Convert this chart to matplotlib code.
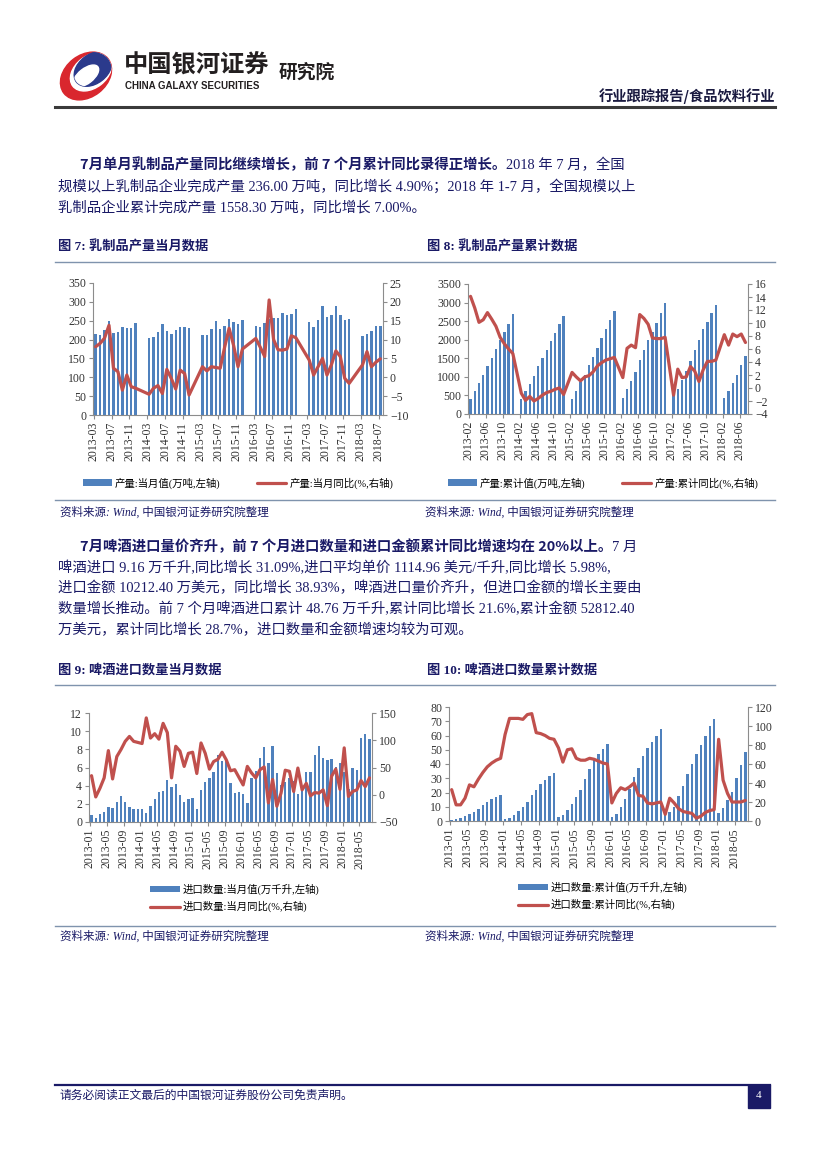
import numpy as np
import pandas as pd
import matplotlib
matplotlib.use('Agg')
import matplotlib.pyplot as plt
from matplotlib.patches import Ellipse, Rectangle
from matplotlib.font_manager import FontProperties

W, H = 827, 1169
CJK = 'Noto Sans CJK SC'
SERIF = ['Liberation Serif', CJK]
NAVY = '#1a1a66'
BLUE = '#4f81bd'
RED = '#c0504d'
AXC = '#8c8c8c'

plt.rcParams['font.family'] = SERIF
nan = np.nan

# --- fig 7: dairy output, monthly (2013-03 .. 2018-07) ---
dairy_months = pd.period_range('2013-03', '2018-07', freq='M')
dairy_month_val = [215, 213, 225, 248, 217, 219, 234, 230, 232, 245,
                   nan, nan, 205, 208, 221, 242, 222, 216, 226, 233, 233, 232,
                   nan, nan, 213, 213, 228, 248, 227, 236, 254, 246, 242, 251,
                   nan, nan, 237, 233, 243, 255, 256, 256, 271, 266, 269, 280,
                   nan, nan, 247, 234, 253, 290, 259, 266, 288, 266, 252, 254,
                   nan, nan, 209, 216, 224, 236, 236]
dairy_month_yoy = [8.1, 9.0, 10.4, 13.8, 2.4, 1.5, -3.4, 0.6, -2.5, -2.9,
                   nan, nan, -4.5, -2.9, -2.2, -4.3, 2.1, -0.3, -3.1, 1.9, 1.0, -4.7,
                   nan, nan, 2.8, 1.7, 2.8, 2.6, 2.4, 8.0, 13.0, 8.5, 2.8, 7.5,
                   nan, nan, 10.3, 8.0, 5.5, 20.5, 10.0, 7.3, 7.2, 7.5, 11.0, 10.5,
                   nan, nan, 4.6, 0.6, 2.8, 5.0, 0.6, 3.3, 7.0, 5.5, -0.3, -1.6,
                   nan, nan, 3.3, 6.8, 2.8, 4.0, 4.9]

# --- fig 8: dairy output, cumulative (2013-02 .. 2018-07) ---
dairy_cum_months = pd.period_range('2013-02', '2018-07', freq='M')
dairy_cum_val = [400, 630, 830, 1050, 1300, 1520, 1740, 1980, 2200, 2430, 2690,
                 nan, 400, 610, 820, 1030, 1280, 1500, 1720, 1960, 2190, 2430, 2650,
                 nan, 410, 630, 850, 1060, 1310, 1540, 1790, 2040, 2280, 2530, 2780,
                 nan, 430, 660, 890, 1130, 1460, 1710, 1980, 2200, 2460, 2730, 2990,
                 nan, 500, 680, 920, 1150, 1440, 1710, 1980, 2280, 2490, 2720, 2930,
                 nan, 430, 630, 840, 1060, 1320, 1558]
dairy_cum_yoy = [14.1, 12.3, 10.1, 10.5, 11.6, 10.6, 9.5, 7.8, 6.8, 6.0, 5.3,
                 nan, -0.8, -1.9, -1.3, -2.0, -1.6, -1.1, -0.7, -0.5, -0.2, 0.0, -1.0,
                 nan, 2.4, 1.7, 1.1, 1.7, 1.9, 2.5, 3.4, 3.9, 4.3, 4.5, 4.7,
                 nan, 1.6, 6.1, 6.6, 6.2, 11.3, 10.7, 9.8, 7.7, 7.6, 7.6, 7.8,
                 nan, -1.1, 2.9, 1.6, 1.7, 3.3, 2.6, 1.0, 2.8, 4.1, 4.1, 4.3,
                 nan, 8.2, 6.6, 8.3, 7.9, 8.3, 7.0]

# --- fig 9 / 10: beer imports (2013-01 .. 2018-07) ---
beer_months = pd.period_range('2013-01', '2018-07', freq='M')
beer_month_val = [0.75, 0.4, 0.85, 1.15, 1.65, 1.5, 2.15, 2.85, 2.2, 1.65, 1.4, 1.45,
                  1.45, 1.0, 1.8, 2.5, 3.35, 3.45, 4.6, 3.85, 4.15, 2.95, 2.15, 2.55,
                  2.6, 1.4, 3.5, 4.35, 4.8, 5.5, 7.4, 6.7, 6.8, 4.25, 3.15, 3.35,
                  3.05, 2.1, 4.85, 5.6, 7.1, 8.3, 6.45, 8.4, 5.35, 4.1, 4.4, 4.8,
                  4.5, 3.05, 3.8, 5.45, 5.5, 7.35, 8.4, 7.0, 6.85, 6.9, 6.05, 6.55,
                  5.5, 3.6, 5.9, 5.7, 9.25, 9.65, 9.16]
beer_month_yoy = [35, -4, 12, 31, 81, 29, 70, 83, 98, 107, 98, 96,
                  94, 141, 104, 112, 102, 131, 114, 31, 89, 80, 52, 76,
                  78, 39, 95, 76, 47, 61, 65, 78, 64, 44, 46, 32,
                  18, 52, 40, 31, 46, 51, -15, 28, -21, 3, 45, 43,
                  6, 49, 9, 21, -2, 4, 3, 9, -20, 34, 47, 10,
                  86, -3, 6, 9, 26, 15, 31]
beer_cum_val = [0.75, 1.15, 2.0, 3.2, 4.8, 6.3, 8.4, 11.3, 13.5, 15.2, 16.6, 18.0,
                1.45, 2.45, 4.25, 6.75, 10.1, 13.6, 18.2, 22.0, 26.2, 29.1, 31.3, 33.9,
                2.6, 4.0, 7.5, 11.8, 16.6, 22.1, 29.5, 36.2, 43.0, 47.3, 50.4, 53.8,
                3.05, 5.15, 10.0, 15.6, 22.7, 31.0, 37.5, 45.9, 51.2, 55.3, 59.7, 64.5,
                4.5, 6.2, 10.0, 17.3, 24.6, 33.1, 39.8, 46.8, 53.6, 59.6, 66.5, 71.6,
                5.5, 9.0, 14.8, 20.6, 29.9, 39.6, 48.76]
beer_cum_yoy = [33, 17, 17, 24, 38, 36, 44, 51, 57, 61, 64, 66,
                91, 108, 108, 108, 107, 112, 113, 93, 92, 90, 87, 86,
                77, 62, 75, 76, 66, 64, 64, 66, 65, 63, 61, 60,
                19, 29, 35, 33, 36, 40, 27, 26, 19, 18, 19, 20,
                7, 24, 19, 13, 10, 9, 8, 3, 5, 9, 11, 12,
                86, 43, 29, 20, 20, 20, 21.6]

para1 = ["规模以上乳制品企业完成产量 236.00 万吨，同比增长 4.90%；2018 年 1-7 月，全国规模以上",
         "乳制品企业累计完成产量 1558.30 万吨，同比增长 7.00%。"]
para2 = ["啤酒进口 9.16 万千升,同比增长 31.09%,进口平均单价 1114.96 美元/千升,同比增长 5.98%,",
         "进口金额 10212.40 万美元，同比增长 38.93%，啤酒进口量价齐升，但进口金额的增长主要由",
         "数量增长推动。前 7 个月啤酒进口累计 48.76 万千升,累计同比增长 21.6%,累计金额 52812.40",
         "万美元，累计同比增长 28.7%，进口数量和金额增速均较为可观。"]

legend_font = FontProperties(family=SERIF, size=7.5)


def px_axes(fig, x0, y0, x1, y1):
    return fig.add_axes([x0 / W, 1 - y1 / H, (x1 - x0) / W, (y1 - y0) / H])


def dual_chart(fig, box, months, bars, line, lim_l, step_l, lim_r, step_r,
               names, leg_xy, ncol):
    ax = px_axes(fig, *box)
    ax.set_facecolor('none')
    x = np.arange(len(months))
    b = np.array(bars, dtype=float)
    l = np.array(line, dtype=float)
    hb = ax.bar(x, np.nan_to_num(b), width=0.55, color=BLUE, label=names[0], zorder=2)
    ax2 = ax.twinx()
    ok = ~np.isnan(l)
    hl, = ax2.plot(x[ok], l[ok], color=RED, lw=2.3, label=names[1],
                   solid_joinstyle='round', solid_capstyle='round')
    ax.set_xlim(-0.6, len(x) - 0.4)
    ax.set_ylim(*lim_l)
    ax2.set_ylim(*lim_r)
    ax.set_yticks(np.arange(lim_l[0], lim_l[1] + step_l / 2, step_l))
    ax2.set_yticks(np.arange(lim_r[0], lim_r[1] + step_r / 2, step_r))
    ticks = x[::4]
    ax.set_xticks(ticks - 0.4)
    ax.set_xticklabels([months[i].strftime('%Y-%m') for i in ticks],
                       rotation=90, fontsize=8.5, color='#333333')
    for a in (ax, ax2):
        a.spines['top'].set_visible(False)
        for s in a.spines.values():
            s.set_color(AXC)
            s.set_linewidth(0.8)
        a.tick_params(axis='y', length=3, color=AXC, labelsize=8.5,
                      labelcolor='#333333', pad=2)
    ax.spines['right'].set_visible(False)
    ax2.spines['left'].set_visible(False)
    ax2.spines['bottom'].set_visible(False)
    ax.tick_params(axis='x', length=3, color=AXC, pad=2)
    ax.legend(handles=[hb, hl], loc='center', ncol=ncol,
              bbox_to_anchor=(leg_xy[0] / W, 1 - leg_xy[1] / H),
              bbox_transform=fig.transFigure, frameon=False, prop=legend_font,
              handlelength=2.8, handleheight=0.6, columnspacing=3.5,
              handletextpad=0.3, labelspacing=0.6, borderpad=0)
    return ax


fig = plt.figure(figsize=(W / 100, H / 100), dpi=100)
bg = fig.add_axes([0, 0, 1, 1])
bg.set_xlim(0, W)
bg.set_ylim(H, 0)
bg.axis('off')

# header logo: red and blue crescents inside an oval
oval = Ellipse((86, 76), 56, 42, angle=-38, color='#d9272e')
bg.add_patch(oval)
cut = Ellipse((91, 72), 46, 32, angle=-38, color='white')
bg.add_patch(cut)
cut.set_clip_path(oval)
blue = Ellipse((93, 69), 42, 29, angle=-38, color='#2b3a8c')
bg.add_patch(blue)
blue.set_clip_path(oval)
hole = Ellipse((86, 76), 30, 15, angle=-38, color='white')
bg.add_patch(hole)
hole.set_clip_path(blue)

bg.text(124, 66, '中国银河证券', fontsize=17.5, fontweight='bold', family=CJK,
        color='#231f20', va='center')
bg.text(125, 86, 'CHINA GALAXY SECURITIES', fontsize=7, fontweight='bold',
        family='Liberation Sans', color='#231f20', va='center')
bg.text(279, 72, '研究院', fontsize=13.5, fontweight='bold', family=CJK,
        color='#231f20', va='center')
bg.text(775, 96, '行业跟踪报告/食品饮料行业', fontsize=10.3, fontweight='bold',
        family=CJK, color='#1a1a40', va='center', ha='right')
bg.plot([55, 775], [107, 107], color='#3a3a3a', lw=2.2)

body = dict(fontsize=10.35, color=NAVY, va='center')


def para(y0, bold, rest, lines, dy):
    t = bg.text(80, y0, bold, fontweight='bold', family=CJK, **body)
    bg.annotate(rest, xy=(1, 0.5), xycoords=t, ha='left', **body)
    for i, s in enumerate(lines):
        bg.text(58, y0 + dy * (i + 1), s, **body)


para(165, '7月单月乳制品产量同比继续增长，前 7 个月累计同比录得正增长。',
     '2018 年 7 月，全国', para1, 21.5)
para(547, '7月啤酒进口量价齐升，前 7 个月进口数量和进口金额累计同比增速均在 20%以上。',
     '7 月', para2, 20.7)

head = dict(fontsize=9.5, fontweight='bold', family=SERIF, color=NAVY, va='center')
src = dict(fontsize=8.3, style='italic', color=NAVY, va='center')
bg.text(58, 247, '图 7: 乳制品产量当月数据', **head)
bg.text(427, 247, '图 8: 乳制品产量累计数据', **head)
bg.text(58, 670, '图 9: 啤酒进口数量当月数据', **head)
bg.text(427, 670, '图 10: 啤酒进口数量累计数据', **head)
for y in (262, 500, 685, 926):
    bg.plot([55, 775], [y, y], color='#7f93ad', lw=1.0)
for y in (513, 937):
    bg.text(60, y, '资料来源: Wind, 中国银河证券研究院整理', **src)
    bg.text(425, y, '资料来源: Wind, 中国银河证券研究院整理', **src)

# footer
bg.plot([55, 770], [1085, 1085], color='#1a1a66', lw=1.6)
bg.text(60, 1096, '请务必阅读正文最后的中国银河证券股份公司免责声明。', fontsize=8.5,
        color=NAVY, va='center')
bg.add_patch(Rectangle((748, 1085), 22, 23, color='#1a1a66'))
bg.text(759, 1096, '4', fontsize=8, color='white', ha='center', va='center')

dual_chart(fig, (93, 283, 383, 415), dairy_months, dairy_month_val, dairy_month_yoy,
           (0, 350), 50, (-10, 25), 5,
           ['产量:当月值(万吨,左轴)', '产量:当月同比(%,右轴)'], (238, 483), 2)
dual_chart(fig, (468, 284, 748, 414), dairy_cum_months, dairy_cum_val, dairy_cum_yoy,
           (0, 3500), 500, (-4, 16), 2,
           ['产量:累计值(万吨,左轴)', '产量:累计同比(%,右轴)'], (603, 483), 2)
dual_chart(fig, (89, 713, 372, 822), beer_months, beer_month_val, beer_month_yoy,
           (0, 12), 2, (-50, 150), 50,
           ['进口数量:当月值(万千升,左轴)', '进口数量:当月同比(%,右轴)'], (235, 898), 1)
dual_chart(fig, (449, 707, 748, 821), beer_months, beer_cum_val, beer_cum_yoy,
           (0, 80), 10, (0, 120), 20,
           ['进口数量:累计值(万千升,左轴)', '进口数量:累计同比(%,右轴)'], (603, 896), 1)

fig.savefig('out.png', dpi=100)
